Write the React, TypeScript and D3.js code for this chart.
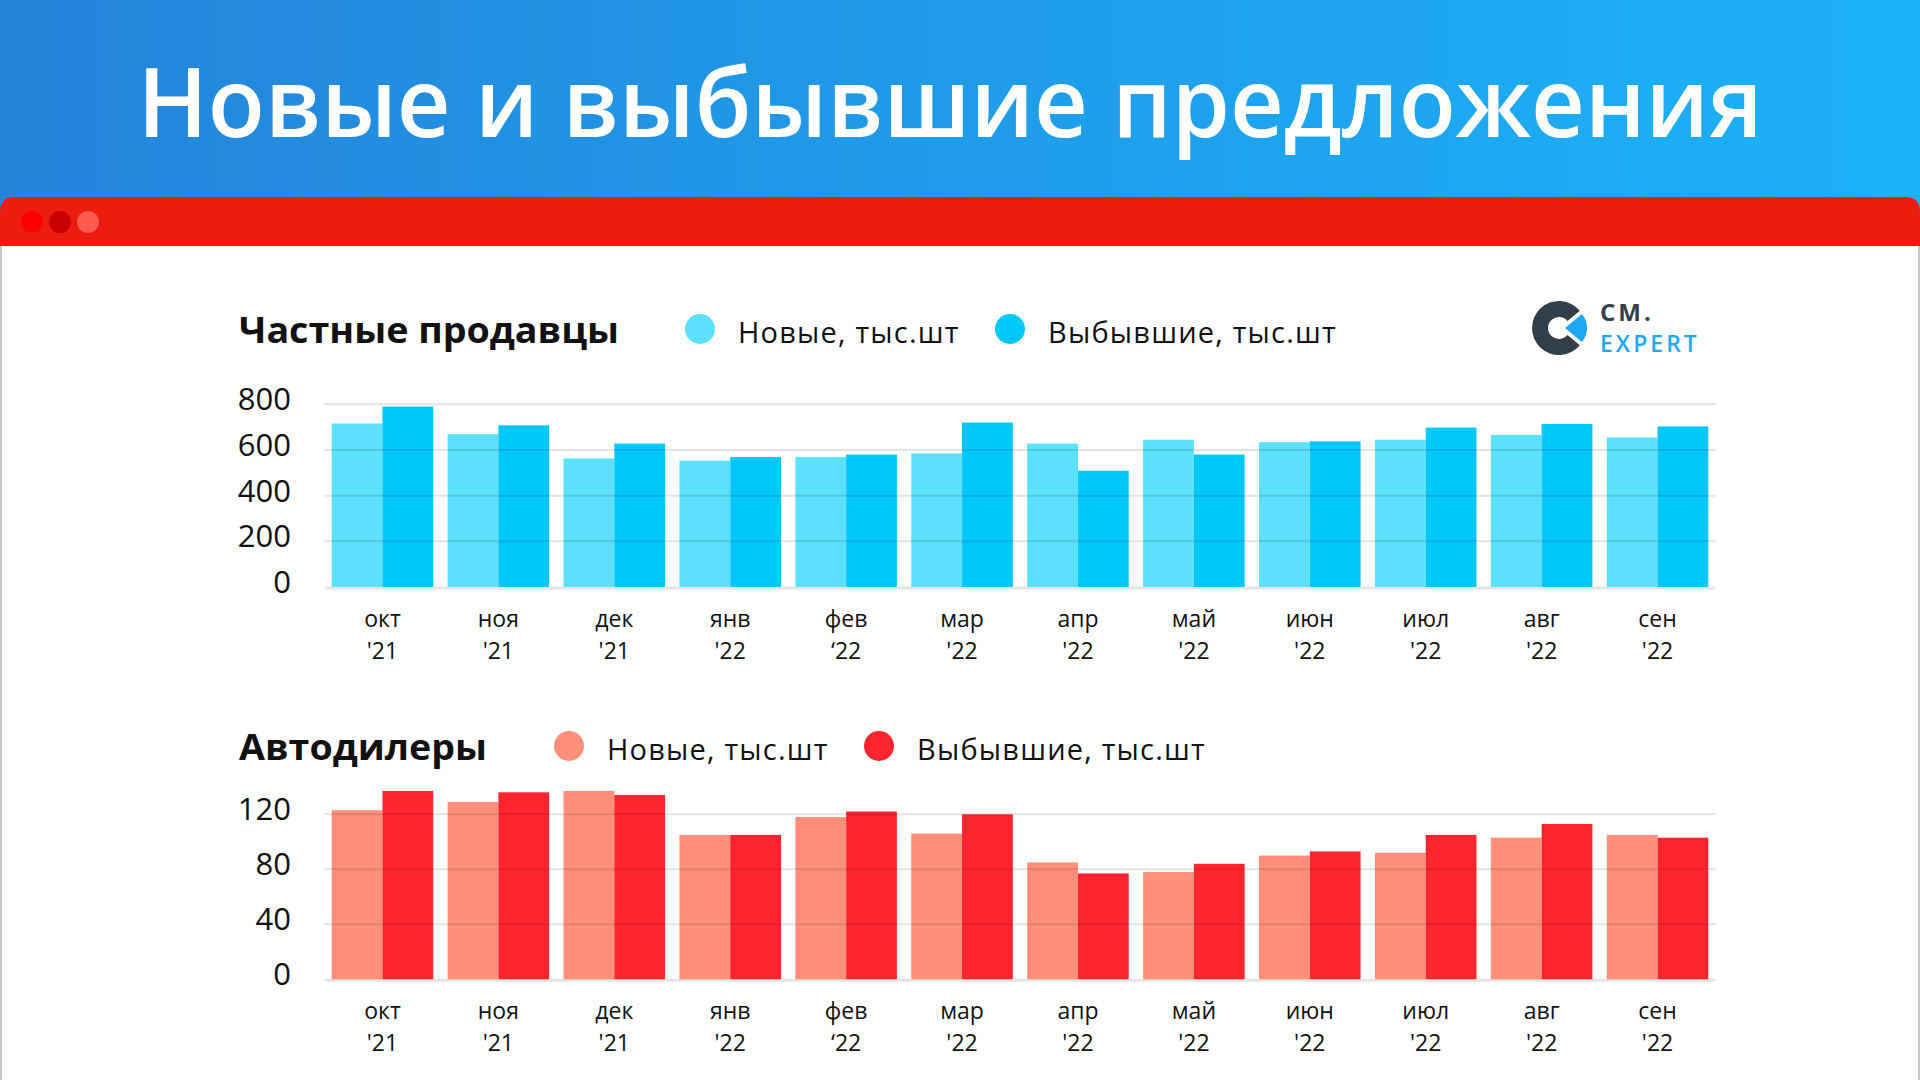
import React, { useEffect } from 'react';
import * as d3 from 'd3';

// месяцы и годы для подписей оси X
const months = ['окт', 'ноя', 'дек', 'янв', 'фев', 'мар', 'апр', 'май', 'июн', 'июл', 'авг', 'сен'];
const years = ["'21", "'21", "'21", "'22", "‘22", "'22", "'22", "'22", "'22", "'22", "'22", "'22"];

// частные продавцы, тыс.шт
const privateNew = [716, 669, 563, 553, 569, 585, 628, 645, 634, 645, 666, 655];
const privateGone = [790, 708, 628, 569, 580, 720, 509, 580, 638, 698, 714, 703];
const privateTicks = [0, 200, 400, 600, 800];

// автодилеры, тыс.шт
const dealersNew = [123, 129, 137, 105, 118, 106, 85, 78, 90, 92, 103, 105];
const dealersGone = [137, 136, 134, 105, 122, 120, 77, 84, 93, 105, 113, 103];
const dealersTicks = [0, 40, 80, 120];

const legendNew = 'Новые, тыс.шт';
const legendGone = 'Выбывшие, тыс.шт';

const W = 1920;
const H = 1080;
const FONT = '"Open Sans", "Noto Sans", sans-serif';

type PanelProps = {
  title: string;
  titleWidth: number;
  newValues: number[];
  goneValues: number[];
  ticks: number[];
  yTop: number; // позиция максимального тика
  yZero: number;
  colorNew: string;
  colorGone: string;
  titleY: number;
  legendX1: number;
  legendX2: number;
};

const x = d3
  .scaleBand<number>()
  .domain(d3.range(months.length))
  .range([324.5, 1715.5])
  .paddingInner(0.124)
  .paddingOuter(0.062);

const inner = d3.scaleBand<string>().domain(['new', 'gone']).range([0, x.bandwidth()]);

const Panel: React.FC<PanelProps> = (p) => {
  const y = d3
    .scaleLinear()
    .domain([0, d3.max(p.ticks) as number])
    .range([p.yZero, p.yTop]);

  return (
    <g>
      <text x={239} y={p.titleY} fontFamily={FONT} fontWeight={700} fontSize={35}
        textLength={p.titleWidth} lengthAdjust="spacingAndGlyphs" fill="#111">
        {p.title}
      </text>
      <circle cx={p.legendX1} cy={p.titleY - 14} r={15} fill={p.colorNew} />
      <text x={p.legendX1 + 38} y={p.titleY} fontFamily={FONT} fontSize={29}
        letterSpacing={1.2} fill="#111">
        {legendNew}
      </text>
      <circle cx={p.legendX2} cy={p.titleY - 14} r={15} fill={p.colorGone} />
      <text x={p.legendX2 + 38} y={p.titleY} fontFamily={FONT} fontSize={29}
        letterSpacing={1.2} fill="#111">
        {legendGone}
      </text>

      <line x1={x.range()[0]} x2={x.range()[1]} y1={p.yZero + 1} y2={p.yZero + 1}
        stroke="#e4e4e4" strokeWidth={3} />

      {months.map((m, i) => (
        <g key={m} transform={`translate(${x(i)},0)`}>
          <rect x={inner('new')} y={y(p.newValues[i])} width={inner.bandwidth()}
            height={p.yZero - y(p.newValues[i])} fill={p.colorNew} />
          <rect x={inner('gone')} y={y(p.goneValues[i])} width={inner.bandwidth()}
            height={p.yZero - y(p.goneValues[i])} fill={p.colorGone} />
          <text x={x.bandwidth() / 2} y={p.yZero + 40} textAnchor="middle"
            fontFamily={FONT} fontSize={23} fill="#111">{m}</text>
          <text x={x.bandwidth() / 2} y={p.yZero + 72} textAnchor="middle"
            fontFamily={FONT} fontSize={23} fill="#111">{years[i]}</text>
        </g>
      ))}

      {p.ticks.map((t) => (
        <g key={t}>
          {t > 0 && (
            <line x1={x.range()[0]} x2={x.range()[1]} y1={y(t)} y2={y(t)}
              stroke="rgba(0,0,0,0.11)" strokeWidth={2} />
          )}
          <text x={291} y={y(t) - 5} dy="0.35em" textAnchor="end"
            fontFamily={FONT} fontSize={31} fill="#111">{t}</text>
        </g>
      ))}
    </g>
  );
};

const Logo: React.FC = () => {
  const cx = 1559;
  const cy = 328;
  const ring = d3.arc()({
    innerRadius: 11,
    outerRadius: 27,
    startAngle: Math.PI * 0.72,
    endAngle: Math.PI * 2.28,
  } as any) as string;
  const wedge = d3.arc()({
    innerRadius: 0,
    outerRadius: 22,
    startAngle: Math.PI * 0.28,
    endAngle: Math.PI * 0.72,
  } as any) as string;
  return (
    <g>
      <path d={ring} transform={`translate(${cx},${cy})`} fill="#323f4b" />
      <path d={wedge} transform={`translate(${cx + 6},${cy})`} fill="#1ea8f4" />
      <text x={1600} y={321} fontFamily={FONT} fontWeight={700} fontSize={24}
        letterSpacing={3} fill="#323f4b">CM.</text>
      <text x={1600} y={352} fontFamily={FONT} fontWeight={600} fontSize={23}
        letterSpacing={3} fill="#1ea8f4">EXPERT</text>
    </g>
  );
};

export default function App() {
  useEffect(() => {
    document.body.style.margin = '0';
  }, []);

  return (
    <svg width={W} height={H} viewBox={`0 0 ${W} ${H}`} style={{ display: 'block' }}>
      <defs>
        <linearGradient id="hdr" x1="0" x2="1" y1="0" y2="0">
          <stop offset="0%" stopColor="#2484da" />
          <stop offset="100%" stopColor="#1bb3f7" />
        </linearGradient>
      </defs>
      <rect x={0} y={0} width={W} height={H} fill="#fff" />
      <rect x={0} y={0} width={W} height={260} fill="url(#hdr)" />
      <text x={950} y={137} textAnchor="middle" fontFamily={FONT} fontWeight={600}
        fontSize={96} fill="#fff" textLength={1625} lengthAdjust="spacingAndGlyphs">
        Новые и выбывшие предложения
      </text>

      {/* окно */}
      <path d={`M0,${246} L0,${212} Q0,197 15,197 L${W - 15},197 Q${W},197 ${W},212 L${W},246 Z`}
        fill="#ec1d10" />
      <rect x={0} y={246} width={W} height={H - 246} fill="#fff" />
      <line x1={1} x2={1} y1={246} y2={H} stroke="#c9c9c9" strokeWidth={2} />
      <line x1={W - 1} x2={W - 1} y1={246} y2={H} stroke="#c9c9c9" strokeWidth={2} />
      <circle cx={32} cy={222} r={11} fill="#ff0000" />
      <circle cx={60} cy={222} r={11} fill="#c90000" />
      <circle cx={88} cy={222} r={11} fill="#ff5a4c" />

      <Logo />

      <Panel title="Частные продавцы" titleWidth={380} newValues={privateNew} goneValues={privateGone}
        ticks={privateTicks} yTop={404.3} yZero={587} colorNew="#5ce1fc" colorGone="#00c9fa"
        titleY={343} legendX1={700} legendX2={1010} />
      <Panel title="Автодилеры" titleWidth={248} newValues={dealersNew} goneValues={dealersGone}
        ticks={dealersTicks} yTop={814.3} yZero={979.3} colorNew="#ff8f7a" colorGone="#ff252f"
        titleY={760} legendX1={569} legendX2={879} />
    </svg>
  );
}
